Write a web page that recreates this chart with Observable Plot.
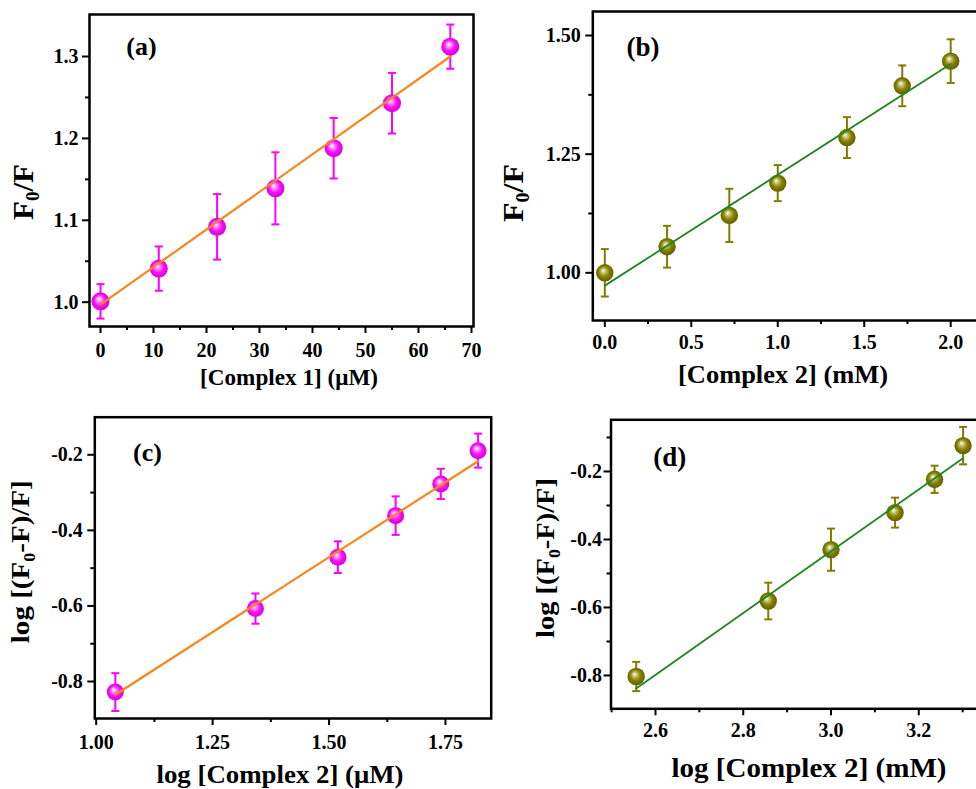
<!DOCTYPE html>
<html>
<head>
<meta charset="utf-8">
<script src="https://cdn.jsdelivr.net/npm/d3@7"></script>
<script src="https://cdn.jsdelivr.net/npm/@observablehq/plot@0.6"></script>
<style>
  html, body { margin: 0; padding: 0; background: #fff; width: 976px; height: 789px; overflow: hidden; }
  #wrap { position: relative; width: 976px; height: 789px; overflow: hidden; }
  #wrap > svg { position: absolute; }
</style>
</head>
<body>
<svg width="0" height="0" style="position:absolute">
  <defs>
    <radialGradient id="sphM" cx="0.5" cy="0.5" r="0.55" fx="0.4" fy="0.35">
      <stop offset="0%" stop-color="#ffffff"/>
      <stop offset="22%" stop-color="#ff9cff"/>
      <stop offset="55%" stop-color="#ff10ff"/>
      <stop offset="100%" stop-color="#c800c8"/>
    </radialGradient>
    <radialGradient id="sphO" cx="0.5" cy="0.5" r="0.55" fx="0.4" fy="0.35">
      <stop offset="0%" stop-color="#ffffff"/>
      <stop offset="22%" stop-color="#c9c77a"/>
      <stop offset="55%" stop-color="#858200"/>
      <stop offset="100%" stop-color="#5a5800"/>
    </radialGradient>
  </defs>
</svg>
<div id="wrap"></div>
<script>
// ---------- data ----------
// (a) F0/F vs [Complex 1] (µM)
const aX = [0, 11, 22, 33, 44, 55, 66];
const aY = [1.001, 1.041, 1.092, 1.139, 1.188, 1.243, 1.312];
const aErr = [0.021, 0.027, 0.040, 0.044, 0.037, 0.037, 0.027];
const aFitX = [0, 66];
const aFitY = [0.997, 1.300];
const aXTicks = [0, 10, 20, 30, 40, 50, 60, 70];
const aXMinor = [5, 15, 25, 35, 45, 55, 65];
const aYTicks = [1.0, 1.1, 1.2, 1.3];
const aYMinor = [1.05, 1.15, 1.25];

// (b) F0/F vs [Complex 2] (mM)
const bX = [0, 0.36, 0.72, 1.0, 1.4, 1.72, 2.0];
const bY = [1.000, 1.055, 1.121, 1.189, 1.285, 1.394, 1.446];
const bErr = [0.050, 0.044, 0.056, 0.038, 0.043, 0.043, 0.046];
const bFitX = [0, 2.0];
const bFitY = [0.973, 1.440];
const bXTicks = [0, 0.5, 1.0, 1.5, 2.0];
const bXMinor = [0.25, 0.75, 1.25, 1.75];
const bYTicks = [1.0, 1.25, 1.5];
const bYMinor = [1.125, 1.375];

// (c) log[(F0-F)/F] vs log[Complex 2] (µM)
const cX = [1.041, 1.342, 1.519, 1.643, 1.740, 1.820];
const cY = [-0.828, -0.607, -0.471, -0.361, -0.277, -0.189];
const cErr = [0.050, 0.040, 0.042, 0.051, 0.040, 0.045];
const cFitX = [1.041, 1.820];
const cFitY = [-0.835, -0.217];
const cXTicks = [1.0, 1.25, 1.5, 1.75];
const cXMinor = [1.125, 1.375, 1.625];
const cYTicks = [-0.8, -0.6, -0.4, -0.2];
const cYMinor = [-0.7, -0.5, -0.3];

// (d) log[(F0-F)/F] vs log[Complex 2] (mM)
const dX = [2.556, 2.857, 3.000, 3.146, 3.236, 3.301];
const dY = [-0.803, -0.581, -0.430, -0.321, -0.223, -0.124];
const dErr = [0.043, 0.054, 0.062, 0.044, 0.040, 0.055];
const dFitX = [2.556, 3.301];
const dFitY = [-0.838, -0.161];
const dXTicks = [2.6, 2.8, 3.0, 3.2];
const dXMinor = [2.5, 2.7, 2.9, 3.1, 3.3];
const dYTicks = [-0.8, -0.6, -0.4, -0.2];
const dYMinor = [-0.7, -0.5, -0.3, -0.1];

// text
const panelTags = ["(a)", "(b)", "(c)", "(d)"];
const xLabels = ["[Complex 1] (\u03bcM)", "[Complex 2] (mM)", "log [Complex 2] (\u03bcM)", "log [Complex 2] (mM)"];
// y labels: parts [text, isSubscript]
const yLabelF = [["F", false], ["0", true], ["/F", false]];
const yLabelLog = [["log [(F", false], ["0", true], ["-F)/F]", false]];

// ---------- drawing ----------
const FONT = "Liberation Serif, Times New Roman, serif";
const MAGENTA = "#ff00ff", OLIVE = "#7f7d00", ORANGE = "#f7861c", GREEN = "#21861f";

const capSymbol = {
  draw(ctx, size) {
    const w = Math.sqrt(size / Math.PI);
    ctx.moveTo(-w, 0);
    ctx.lineTo(w, 0);
  }
};

const wrap = document.getElementById("wrap");
const tickText = {fontSize: 20, fontWeight: "bold", fontFamily: FONT, fill: "black"};

function panel(cfg) {
  const pts = cfg.xs.map((x, i) => ({x, y: cfg.ys[i], lo: cfg.ys[i] - cfg.err[i], hi: cfg.ys[i] + cfg.err[i]}));
  const fit = cfg.fitX.map((x, i) => ({x, y: cfg.fitY[i]}));
  const svg = Plot.plot({
    width: cfg.w, height: cfg.h,
    marginLeft: cfg.ml, marginRight: cfg.mr, marginTop: cfg.mt, marginBottom: cfg.mb,
    x: {domain: cfg.xd},
    y: {domain: cfg.yd},
    style: {fontFamily: FONT, fontSize: "20px", fontWeight: "bold", background: "transparent", overflow: "visible", maxWidth: "none", color: "black"},
    marks: [
      Plot.axisX({ticks: cfg.xMinor, tickSize: 4, tickFormat: () => "", strokeWidth: 2, label: null}),
      Plot.axisX({ticks: cfg.xTicks, tickSize: 7, tickPadding: cfg.xPad, tickFormat: cfg.xFmt, strokeWidth: 2, label: null, ...tickText}),
      Plot.axisY({ticks: cfg.yMinor, tickSize: 4, tickFormat: () => "", strokeWidth: 2, label: null}),
      Plot.axisY({ticks: cfg.yTicks, tickSize: 7, tickPadding: cfg.yPad, tickFormat: cfg.yFmt, strokeWidth: 2, label: null, ...tickText}),
      Plot.ruleX(pts, {x: "x", y1: "lo", y2: "hi", stroke: cfg.color, strokeWidth: 2}),
      Plot.dot(pts, {x: "x", y: "lo", symbol: capSymbol, r: 4, stroke: cfg.color, fill: "none", strokeWidth: 2}),
      Plot.dot(pts, {x: "x", y: "hi", symbol: capSymbol, r: 4, stroke: cfg.color, fill: "none", strokeWidth: 2}),
      Plot.dot(pts, {x: "x", y: "y", r: cfg.r, fill: cfg.grad, stroke: "none"}),
      Plot.line(fit, {x: "x", y: "y", stroke: cfg.lineColor, strokeWidth: cfg.lineWidth}),
      Plot.frame({stroke: "black", strokeWidth: 2.5})
    ]
  });
  svg.style.left = cfg.left + "px";
  svg.style.top = cfg.top + "px";
  wrap.appendChild(svg);

  const sel = d3.select(svg);
  // make sure tick labels are bold serif at 20px
  sel.selectAll("g[aria-label='x-axis tick label'], g[aria-label='y-axis tick label']")
    .attr("font-size", 20).attr("font-weight", "bold").attr("font-family", FONT).attr("fill", "black")
    .style("font-size", "20px").style("font-weight", "bold").style("font-family", FONT);

  function addText(x, y, rot, size, len, parts) {
    const t = sel.append("text")
      .attr("transform", `translate(${x - cfg.left},${y - cfg.top}) rotate(${rot})`)
      .attr("text-anchor", "middle")
      .attr("fill", "black")
      .style("font-family", FONT)
      .style("font-weight", "bold")
      .style("font-size", size + "px");
    if (len) t.attr("textLength", len).attr("lengthAdjust", "spacingAndGlyphs");
    const shift = size * 0.22;
    let prevSub = false;
    parts.forEach(([s, sub]) => {
      const sp = t.append("tspan").text(s);
      if (sub) { sp.style("font-size", (size * 0.62) + "px").attr("dy", shift); }
      else if (prevSub) { sp.attr("dy", -shift); }
      prevSub = sub;
    });
  }
  addText(cfg.tag.x, cfg.tag.y, 0, cfg.tag.size, null, [[cfg.tag.text, false]]);
  addText(cfg.xl.x, cfg.xl.y, 0, cfg.xl.size, cfg.xl.len, [[cfg.xl.text, false]]);
  addText(cfg.yl.x, cfg.yl.y, -90, cfg.yl.size, cfg.yl.len, cfg.yl.parts);
}

const f0 = d => d3.format("d")(d);
const f1 = d => d.toFixed(1);
const f2 = d => d.toFixed(2);

panel({
  left: 0, top: 0, w: 490, h: 395, ml: 89, mr: 17, mt: 14, mb: 69,
  xd: [-2.075, 70.38], yd: [0.9703, 1.3513],
  xs: aX, ys: aY, err: aErr, fitX: aFitX, fitY: aFitY,
  xTicks: aXTicks, xMinor: aXMinor, yTicks: aYTicks, yMinor: aYMinor,
  xFmt: f0, yFmt: f1, xPad: 9, yPad: 4,
  color: MAGENTA, grad: "url(#sphM)", r: 9, lineColor: ORANGE, lineWidth: 2.2,
  tag: {text: panelTags[0], x: 141.5, y: 55, size: 26},
  xl: {text: xLabels[0], x: 289, y: 385, size: 23, len: 178},
  yl: {parts: yLabelF, x: 33, y: 192, size: 29, len: 56}
});

panel({
  left: 490, top: 0, w: 520, h: 395, ml: 102.3, mr: 20, mt: 11, mb: 75,
  xd: [-0.0694, 2.2302], yd: [0.8995, 1.5506],
  xs: bX, ys: bY, err: bErr, fitX: bFitX, fitY: bFitY,
  xTicks: bXTicks, xMinor: bXMinor, yTicks: bYTicks, yMinor: bYMinor,
  xFmt: f1, yFmt: f2, xPad: 7, yPad: 5,
  color: OLIVE, grad: "url(#sphO)", r: 8.7, lineColor: GREEN, lineWidth: 1.8,
  tag: {text: panelTags[1], x: 643, y: 56, size: 27},
  xl: {text: xLabels[1], x: 783, y: 383, size: 25, len: 210},
  yl: {parts: yLabelF, x: 523, y: 193, size: 29, len: 58}
});

panel({
  left: 0, top: 390, w: 500, h: 399, ml: 94.3, mr: 9.3, mt: 26.7, mb: 71,
  xd: [0.997, 1.8482], yd: [-0.8979, -0.1005],
  xs: cX, ys: cY, err: cErr, fitX: cFitX, fitY: cFitY,
  xTicks: cXTicks, xMinor: cXMinor, yTicks: cYTicks, yMinor: cYMinor,
  xFmt: f2, yFmt: f1, xPad: 9, yPad: 5,
  color: MAGENTA, grad: "url(#sphM)", r: 8.5, lineColor: ORANGE, lineWidth: 2.2,
  tag: {text: panelTags[2], x: 147.5, y: 461, size: 26},
  xl: {text: xLabels[2], x: 280, y: 783, size: 26, len: 247},
  yl: {parts: yLabelLog, x: 29, y: 561.7, size: 26, len: 163}
});

panel({
  left: 490, top: 390, w: 520, h: 399, ml: 120.5, mr: 20, mt: 29.3, mb: 80.7,
  xd: [2.4986, 3.3635], yd: [-0.898, -0.048],
  xs: dX, ys: dY, err: dErr, fitX: dFitX, fitY: dFitY,
  xTicks: dXTicks, xMinor: dXMinor, yTicks: dYTicks, yMinor: dYMinor,
  xFmt: f1, yFmt: f1, xPad: 7, yPad: 2,
  color: OLIVE, grad: "url(#sphO)", r: 8.7, lineColor: GREEN, lineWidth: 1.8,
  tag: {text: panelTags[3], x: 669.7, y: 466, size: 27},
  xl: {text: xLabels[3], x: 809, y: 777, size: 28, len: 275},
  yl: {parts: yLabelLog, x: 554, y: 558, size: 26, len: 160}
});
</script>
</body>
</html>
